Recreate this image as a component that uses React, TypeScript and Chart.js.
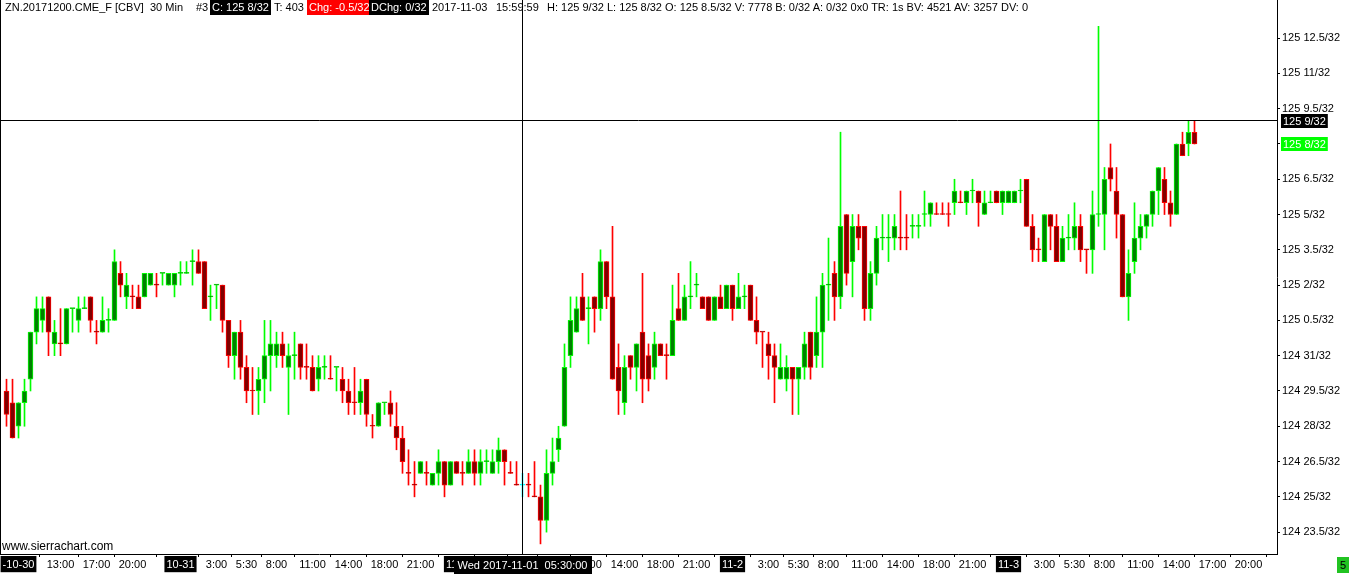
import { useEffect, useRef } from "react";
import { Chart, registerables } from "chart.js";

Chart.register(...registerables);

// Prices are in 32nds above 124 (33 = 125 1/32, 29.5 = 124 29.5/32). One bar = 30 min, bar 0 = 10-30 08:30.
const opens = [
  29.5, 29, 28, 29, 30, 32, 32.5, 33.5, 31.5, 31.5, 31.5, 33, 32.5, 33, 33.5, 32, 32, 32.5, 32.5, 34.5,
  33.5, 33.5, 33.5, 33.5, 34, 34, 34.5, 34, 34, 34.5, 34.5, 35, 35, 35, 33.5, 34, 34, 32.5, 31, 32,
  30.5, 29.5, 29.5, 30, 31, 31, 31.5, 30.5, 31, 31.5, 30.5, 30.5, 30, 30.5, 30, 30.5, 30, 29.5, 29, 29,
  30, 28, 28, 29, 29, 28, 27.5, 26, 25.5, 26, 26, 25.5, 26, 26.5, 25.5, 26.5, 26, 26, 26.5, 26,
  26.5, 26, 26.5, 27, 26, 25.5, 25.5, 25.5, 25, 25, 24, 26, 27, 28, 31, 32, 33.5, 33, 33.5, 33,
  35, 33.5, 30.5, 29, 31, 30.5, 32, 31, 30.5, 31.5, 31, 31, 33, 32.5, 33.5, 34, 33.5, 33.5, 32.5, 33.5,
  33, 34, 33, 33.5, 34, 32.5, 32, 31.5, 31, 30, 30, 30.5, 30, 30.5, 32, 31, 32, 34, 34.5, 33.5,
  37, 35, 36.5, 36.5, 33, 34.5, 36, 36, 36, 36, 36, 36.5, 36.5, 37, 37, 37, 37, 37, 37.5, 37.5,
  37.5, 38, 38, 37, 37.5, 38, 37.5, 37.5, 37.5, 38, 38.5, 36.5, 35.5, 35, 37, 36.5, 35, 36, 36, 36.5,
  35.5, 35.5, 37, 37, 39, 38, 37, 33.5, 35, 36, 36.5, 37, 38, 38.5, 37.5, 37, 40, 40, 40.5,
];
const highs = [
  30, 30, 29, 30, 32, 33.5, 33.5, 33.5, 32.5, 33, 33, 33, 33.5, 33.5, 33.5, 32.5, 33.5, 33, 35.5, 35,
  34.5, 34, 34, 34.5, 34.5, 34.5, 34.5, 34.5, 34.5, 35, 35, 35.5, 35.5, 35, 34, 34, 34, 32.5, 32, 32.5,
  31, 30.5, 30.5, 32.5, 32.5, 32, 32, 31.5, 32, 31.5, 31.5, 31, 31, 31, 31, 30.5, 30.5, 30, 30.5, 30,
  30, 28.5, 29, 29, 29.5, 29, 28, 27, 26.5, 26.5, 26.5, 26, 27, 26.5, 26.5, 26.5, 26.5, 27, 27, 27,
  27, 27, 27.5, 27, 26.5, 26.5, 26, 26, 26.5, 25.5, 27, 27.5, 28, 31.5, 33.5, 33.5, 34.5, 33.5, 33.5, 35.5,
  35, 36.5, 31.5, 31, 31, 31.5, 34.5, 31.5, 32, 31.5, 31.5, 34, 34.5, 34, 35, 34.5, 33.5, 33.5, 33.5, 34,
  34, 34, 34.5, 34, 34, 33.5, 32, 32, 31.5, 31.5, 31, 30.5, 30.5, 32, 32, 33.5, 34.5, 36, 35, 40.5,
  37, 37, 37, 36.5, 35, 36.5, 37, 37, 37, 38, 37, 37, 37, 38, 37.5, 37.5, 37.5, 37.5, 38.5, 38,
  38, 38.5, 38, 38, 38, 38, 38, 38, 38, 38.5, 38.5, 37, 36, 37, 37, 37, 36.5, 37, 37.5, 37,
  35.5, 38, 45, 39, 40, 39, 37, 35.5, 37.5, 37, 37, 38, 39, 39, 38, 40, 40.5, 41, 41,
];
const lows = [
  28, 27.5, 27.5, 28, 29.5, 31.5, 32, 31, 31, 31, 31.5, 32, 32, 33, 32, 31.5, 32, 32, 32.5, 33.5,
  33, 33, 33, 33.5, 34, 33.5, 34, 34, 33.5, 34, 34.5, 34, 34.5, 33, 32.5, 33, 32, 30.5, 30, 30,
  29, 28.5, 28.5, 29, 29.5, 30.5, 30.5, 28.5, 30, 30, 30, 29.5, 29.5, 30, 30, 29.5, 29, 28.5, 28.5, 28.5,
  28, 27.5, 28, 28.5, 28, 27, 26, 25.5, 25, 26, 25.5, 25.5, 25.5, 25, 25.5, 26, 25.5, 26, 25.5, 25.5,
  26, 26, 26, 25.5, 26, 25.5, 25, 25, 25, 23, 23.5, 25.5, 26.5, 28, 30.5, 32, 32.5, 31.5, 32, 32.5,
  33, 30, 28.5, 28.5, 30, 29.5, 29, 29.5, 30, 31, 30, 31, 32.5, 32.5, 33, 33.5, 33, 32.5, 32.5, 33,
  33, 32.5, 33, 33, 32.5, 31.5, 30.5, 30, 29, 30, 29.5, 28.5, 28.5, 30, 30, 30.5, 30.5, 32.5, 32.5, 33,
  34, 33.5, 35.5, 32.5, 32.5, 34, 35.5, 35, 35.5, 35.5, 35.5, 36, 36, 36.5, 36.5, 37, 37, 36.5, 37, 37.5,
  37, 37.5, 36.5, 37, 37.5, 37.5, 37, 37.5, 37.5, 37.5, 36.5, 35, 35, 35, 35.5, 35, 35, 35.5, 35.5, 35,
  34.5, 34.5, 36.5, 35.5, 38, 36, 33.5, 32.5, 34.5, 35.5, 36, 36.5, 37, 37, 36.5, 37, 39.5, 39.5, 40,
];
const closes = [
  28.5, 27.5, 29, 29.5, 32, 33, 33, 32, 32, 31.5, 33, 33, 33, 33, 32.5, 32, 32.5, 32.5, 35, 34,
  34, 33.5, 33, 34.5, 34.5, 34, 34.5, 34.5, 34.5, 34.5, 34.5, 35, 34.5, 33, 33.5, 34, 32.5, 31, 32, 30.5,
  29.5, 29.5, 30, 31, 31.5, 31.5, 31, 31, 31, 30.5, 30.5, 29.5, 30.5, 30.5, 30, 30.5, 29.5, 29, 29, 29.5,
  28.5, 28, 29, 29, 28.5, 27.5, 26.5, 26, 25.5, 26.5, 26, 26, 26.5, 25.5, 26.5, 26, 26, 26.5, 26, 26.5,
  26.5, 26.5, 27, 26.5, 26, 25.5, 25.5, 25.5, 25, 24, 26, 26.5, 27.5, 30.5, 32.5, 33, 32.5, 33, 33, 35,
  33.5, 30, 29.5, 30.5, 30.5, 31.5, 30, 30, 31.5, 31, 31, 32.5, 32.5, 33.5, 33.5, 34, 33, 32.5, 33.5, 33,
  34, 33, 33.5, 33.5, 32.5, 32, 32, 31, 30.5, 30.5, 30.5, 30, 30.5, 31.5, 30.5, 32, 34, 34, 33.5, 36.5,
  34.5, 36.5, 36, 33, 34.5, 36, 36, 36, 36.5, 36, 36, 36.5, 36.5, 37, 37.5, 37, 37, 37, 38, 37.5,
  38, 38, 37.5, 37.5, 37.5, 37.5, 38, 38, 38, 38, 36.5, 35.5, 35.5, 37, 36.5, 35, 36, 36, 36.5, 35.5,
  35.5, 37, 37, 38.5, 38.5, 37, 33.5, 34.5, 36, 36.5, 37, 38, 39, 37.5, 37, 40, 39.5, 40.5, 40,
];

const yTickValues = [23.5, 25, 26.5, 28, 29.5, 31, 32.5, 34, 35.5, 37, 38.5, 40, 41.5, 43, 44.5];
const xTickBars = [
  2, 9, 15, 21, 29, 35, 40, 45, 51, 57, 63, 69, 75, 81, 86, 91, 97, 103, 109, 115, 121, 127, 132, 137,
  143, 149, 155, 161, 167, 173, 178, 183, 189, 195, 201, 207,
];
const xTickLabels = [
  "-10-30", "13:00", "17:00", "20:00", "10-31", "3:00", "5:30", "8:00", "11:00", "14:00", "18:00", "21:00",
  "11-1", "3:00", "5:30", "8:00", "11:00", "14:00", "18:00", "21:00", "11-2", "3:00", "5:30", "8:00",
  "11:00", "14:00", "18:00", "21:00", "11-3", "3:00", "5:30", "8:00", "11:00", "14:00", "17:00", "20:00",
];

const cursorBar = 86;
const cursorPrice = 41;
const cursorTime = "Wed 2017-11-01  05:30:00";

const FONT = '"Liberation Sans", Arial, sans-serif';
const UP_LINE = "#00ff00";
const UP_FILL = "#008000";
const DN_LINE = "#ff0000";
const DN_FILL = "#800000";
const CURSOR = "#00ffff";

// direction of each bar: open/close, then previous close, then previous bar
const dirs: number[] = [];
closes.forEach((c, i) => {
  const o = opens[i];
  if (c > o) dirs.push(1);
  else if (c < o) dirs.push(-1);
  else if (i > 0 && c > closes[i - 1]) dirs.push(1);
  else if (i > 0 && c < closes[i - 1]) dirs.push(-1);
  else dirs.push(i > 0 ? dirs[i - 1] : 1);
});

function fmt32(v: number) {
  const whole = v >= 32 ? 125 : 124;
  const frac = v >= 32 ? v - 32 : v;
  return `${whole} ${frac}/32`;
}

function lineColor(i: number) {
  if (i === cursorBar) return CURSOR;
  return dirs[i] > 0 ? UP_LINE : DN_LINE;
}
function fillColor(i: number) {
  if (i === cursorBar) return CURSOR;
  return dirs[i] > 0 ? UP_FILL : DN_FILL;
}

const crosshair = {
  id: "crosshair",
  afterDraw(chart: any) {
    const { ctx, chartArea } = chart;
    const x = chart.scales.x;
    const y = chart.scales.y;
    const cx = Math.floor(x.getPixelForValue(cursorBar)) + 0.5;
    const cy = Math.round(y.getPixelForValue(cursorPrice)) + 0.5;
    ctx.save();
    ctx.strokeStyle = "#000";
    ctx.lineWidth = 1;
    ctx.beginPath();
    ctx.moveTo(cx, chartArea.top);
    ctx.lineTo(cx, chartArea.bottom);
    ctx.moveTo(chartArea.left, cy);
    ctx.lineTo(chartArea.right, cy);
    ctx.stroke();

    ctx.font = `11px ${FONT}`;
    ctx.textBaseline = "middle";
    ctx.textAlign = "center";
    const bw = ctx.measureText(cursorTime).width + 8;
    ctx.fillStyle = "#000";
    ctx.fillRect(Math.round(cx - bw / 2), chartArea.bottom + 2, Math.round(bw), 18);
    ctx.fillStyle = "#fff";
    ctx.fillText(cursorTime, cx, chartArea.bottom + 11.5);

    const box = (label: string, py: number, bg: string) => {
      ctx.textAlign = "left";
      const w = ctx.measureText(label).width + 4;
      ctx.fillStyle = bg;
      ctx.fillRect(chartArea.right + 4, Math.round(py) - 7, w, 14);
      ctx.fillStyle = "#fff";
      ctx.fillText(label, chartArea.right + 6, Math.round(py) + 0.5);
    };
    box(fmt32(cursorPrice), cy, "#000");
    const last = closes[closes.length - 1];
    box(fmt32(last), y.getPixelForValue(last), "#00ff00");

    // left border of the chart region
    ctx.beginPath();
    ctx.moveTo(0.5, 0);
    ctx.lineTo(0.5, chartArea.bottom);
    ctx.stroke();
    ctx.restore();
  },
};

export default function App() {
  const canvasRef = useRef<HTMLCanvasElement>(null);
  const chartRef = useRef<Chart | null>(null);

  useEffect(() => {
    if (!canvasRef.current) return;
    if (chartRef.current) chartRef.current.destroy();

    const barIdx = opens.map((_, i) => i);
    const xMin = -1 - 0.5 / 6;

    chartRef.current = new Chart(canvasRef.current, {
      type: "bar",
      data: {
        datasets: [
          {
            label: "body",
            data: barIdx.map((i) => ({ x: i, y: [opens[i], closes[i]] })) as any,
            backgroundColor: (c: any) => fillColor(c.dataIndex),
            borderColor: (c: any) => lineColor(c.dataIndex),
            borderWidth: 1,
            borderSkipped: false,
            barThickness: 5,
            minBarLength: 1,
            grouped: false,
            order: 0,
          },
          {
            label: "wick",
            data: barIdx.map((i) => ({ x: i, y: [lows[i], highs[i]] })) as any,
            backgroundColor: (c: any) => lineColor(c.dataIndex),
            borderWidth: 0,
            barThickness: 1,
            minBarLength: 1,
            grouped: false,
            order: 1,
          },
        ],
      },
      options: {
        responsive: false,
        animation: false,
        events: [],
        layout: { padding: 0 },
        plugins: { legend: { display: false }, tooltip: { enabled: false } },
        scales: {
          x: {
            type: "linear",
            position: "bottom",
            min: xMin,
            max: xMin + 1277 / 6,
            bounds: "data",
            offset: false,
            grid: { drawOnChartArea: false, drawTicks: true, tickLength: 3, color: "#000" },
            border: { color: "#000" },
            afterBuildTicks: (s: any) => {
              s.ticks = xTickBars.map((v) => ({ value: v }));
            },
            afterFit: (s: any) => {
              s.height = 20;
              s.paddingLeft = 0;
              s.paddingRight = 0;
            },
            ticks: {
              autoSkip: false,
              maxRotation: 0,
              padding: 1,
              font: { family: FONT, size: 11 },
              callback: (v: any) => xTickLabels[xTickBars.indexOf(Number(v))] ?? "",
              color: (c: any) => (String(c.tick?.label ?? "").includes("-") ? "#fff" : "#000"),
              showLabelBackdrop: (c: any) => String(c.tick?.label ?? "").includes("-"),
              backdropColor: (c: any) =>
                String(c.tick?.label ?? "").includes("-") ? "#000" : "rgba(0,0,0,0)",
              backdropPadding: { left: 2, right: 2, top: 2, bottom: 1 },
            } as any,
          },
          y: {
            type: "linear",
            position: "right",
            min: 22.57,
            max: 46.12,
            bounds: "data",
            grid: { drawOnChartArea: false, drawTicks: true, tickLength: 3, color: "#000" },
            border: { color: "#000" },
            afterBuildTicks: (s: any) => {
              s.ticks = yTickValues.map((v) => ({ value: v }));
            },
            afterFit: (s: any) => {
              s.width = 73;
              s.paddingTop = 0;
              s.paddingBottom = 0;
            },
            ticks: {
              autoSkip: false,
              padding: 2,
              color: "#000",
              font: { family: FONT, size: 11 },
              callback: (v: any) => fmt32(Number(v)),
            },
          },
        },
      },
      plugins: [crosshair],
    });

    return () => {
      chartRef.current?.destroy();
      chartRef.current = null;
    };
  }, []);

  const txt: React.CSSProperties = {
    position: "absolute",
    top: 0,
    height: 15,
    lineHeight: "15px",
    whiteSpace: "pre",
    fontFamily: FONT,
    fontSize: 11,
    color: "#000",
  };
  const boxed = (bg: string): React.CSSProperties => ({ ...txt, background: bg, color: "#fff", padding: "0 2px" });

  return (
    <div style={{ position: "absolute", left: 0, top: 0, width: 1350, height: 574, background: "#fff", overflow: "hidden" }}>
      <canvas ref={canvasRef} width={1350} height={574} style={{ display: "block" }} />
      <span style={{ ...txt, left: 5 }}>ZN.20171200.CME_F [CBV]</span>
      <span style={{ ...txt, left: 150 }}>30 Min</span>
      <span style={{ ...txt, left: 196 }}>#3</span>
      <span style={{ ...boxed("#000"), left: 210 }}>C: 125 8/32</span>
      <span style={{ ...txt, left: 274 }}>T: 403</span>
      <span style={{ ...boxed("#ff0000"), left: 307 }}>Chg: -0.5/32</span>
      <span style={{ ...boxed("#000"), left: 369 }}>DChg: 0/32</span>
      <span style={{ ...txt, left: 432 }}>2017-11-03</span>
      <span style={{ ...txt, left: 496 }}>15:59:59</span>
      <span style={{ ...txt, left: 547 }}>
        H: 125 9/32 L: 125 8/32 O: 125 8.5/32 V: 7778 B: 0/32 A: 0/32 0x0 TR: 1s BV: 4521 AV: 3257 DV: 0
      </span>
      <span style={{ ...txt, top: 539, left: 2, fontSize: 12 }}>www.sierrachart.com</span>
      <span
        style={{
          ...txt,
          top: 557,
          left: 1337,
          width: 12,
          height: 16,
          lineHeight: "16px",
          textAlign: "center",
          background: "#22c322",
          color: "#000",
        }}
      >
        5
      </span>
    </div>
  );
}
